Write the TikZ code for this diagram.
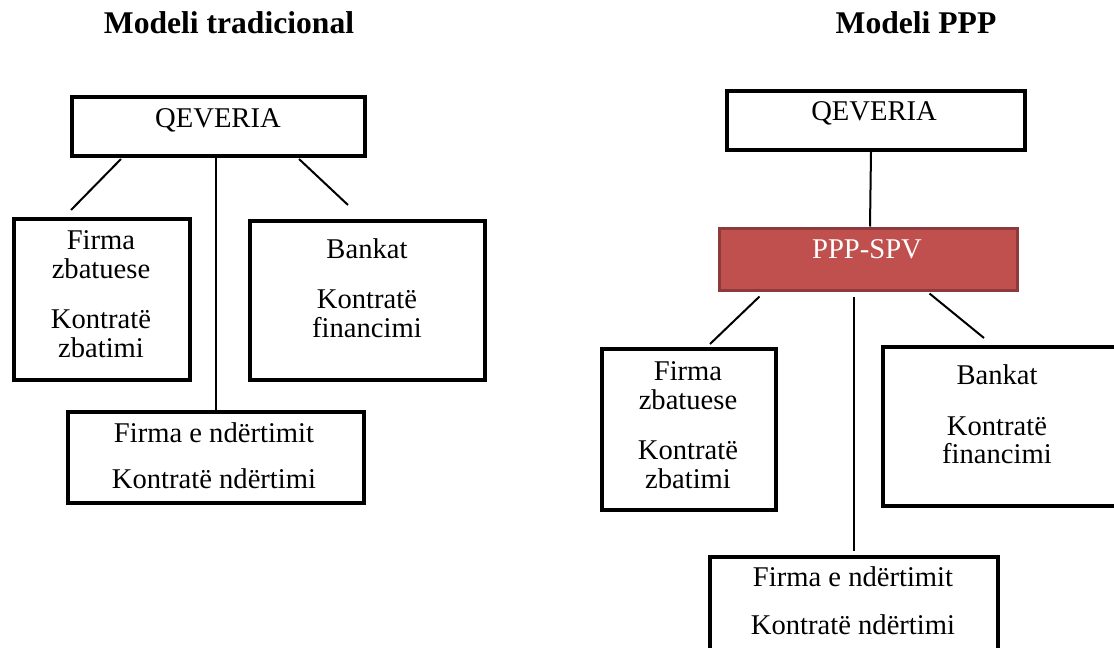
\documentclass[tikz,border=0pt]{standalone}
\usepackage{fontspec}
\setmainfont{Liberation Serif}
\usetikzlibrary{calc}

\definecolor{spvrosso}{HTML}{C0504D}
\definecolor{spvbordo}{HTML}{8C3A3B}

\tikzset{
    riquadro/.style={draw, line width=2pt, inner sep=0pt},
    testo/.style={anchor=base, align=center, inner sep=0pt, font=\fontsize{14.3}{14.5}\selectfont},
    titolo/.style={anchor=base, inner sep=0pt, font=\fontsize{15.8}{18}\selectfont\bfseries},
    linea/.style={line width=1pt}
}

\begin{document}
\begin{tikzpicture}[x=0.5pt, y=-0.5pt]
    \useasboundingbox (0,0) rectangle (1114,648);

    % Titoli
    \node[titolo] (titL) at (229,33) {Modeli tradicional};
    \node[titolo] (titR) at (916,33) {Modeli PPP};

    % Modello tradizionale
    \node[riquadro, minimum width=146.5pt, minimum height=29.5pt] (qevL) at (218.5,126.5) {};
    \node[riquadro, minimum width=88pt, minimum height=80.5pt] (firmaL) at (102,299.5) {};
    \node[riquadro, minimum width=117.5pt, minimum height=79.5pt] (bankL) at (367.5,300.5) {};
    \node[riquadro, minimum width=148pt, minimum height=45.5pt] (ndertL) at (216,457.5) {};

    % (base = ultima riga)
    \node[testo] (tqevL) at (218,127) {QEVERIA};
    \node[testo] (tfirmaL) at (101,357) {Firma\\ zbatuese\\[10.5pt] Kontratë\\ zbatimi};
    \node[testo] (tbankL) at (367,337) {Bankat\\[10.5pt] Kontratë\\ financimi};
    \node[testo] (tndertL) at (214,488) {Firma e ndërtimit\\[8.5pt] Kontratë ndërtimi};

    \draw[linea] ($(qevL.south west)+(51,1)$) -- ($(firmaL.north west)+(59,-7)$);
    \draw[linea] (qevL.south -| ndertL.north) -- (ndertL.north);
    \draw[linea] ($(qevL.south east)+(-68,1)$) -- ($(bankL.north west)+(100,-14)$);

    % Modello PPP
    \node[riquadro, minimum width=149pt, minimum height=29.5pt] (qevR) at (876,120.5) {};
    \node[draw=spvbordo, fill=spvrosso, line width=1.5pt, inner sep=0pt,
          minimum width=149pt, minimum height=31pt] (spv) at (868,259) {};
    \node[riquadro, minimum width=87pt, minimum height=80.5pt] (firmaR) at (689,429.5) {};
    \node[riquadro, minimum width=123.5pt, minimum height=79.5pt] (bankR) at (1006.5,426.5) {};
    \node[riquadro, minimum width=144pt, minimum height=51.5pt] (ndertR) at (854,608.5) {};

    \node[testo] (tqevR) at (874,120) {QEVERIA};
    \node[testo, text=white] (tspv) at (867,258) {PPP-SPV};
    \node[testo] (tfirmaR) at (688,488) {Firma\\ zbatuese\\[10.5pt] Kontratë\\ zbatimi};
    \node[testo] (tbankR) at (997,463) {Bankat\\[11pt] Kontratë\\[-0.5pt] financimi};
    \node[testo] (tndertR) at (853,634) {Firma e ndërtimit\\[9.5pt] Kontratë ndërtimi};

    \draw[linea] ($(qevR.south)+(-5,0)$) -- ($(spv.north)+(2,0)$);
    \draw[linea] ($(spv.south west)+(42,5)$) -- ($(firmaR.north west)+(110,-3)$);
    \draw[linea] ($(spv.south -| ndertR.north)+(0,5)$) -- ($(ndertR.north)+(0,-4)$);
    \draw[linea] ($(spv.south east)+(-89,2)$) -- ($(bankR.north west)+(103,-7)$);
\end{tikzpicture}
\end{document}
